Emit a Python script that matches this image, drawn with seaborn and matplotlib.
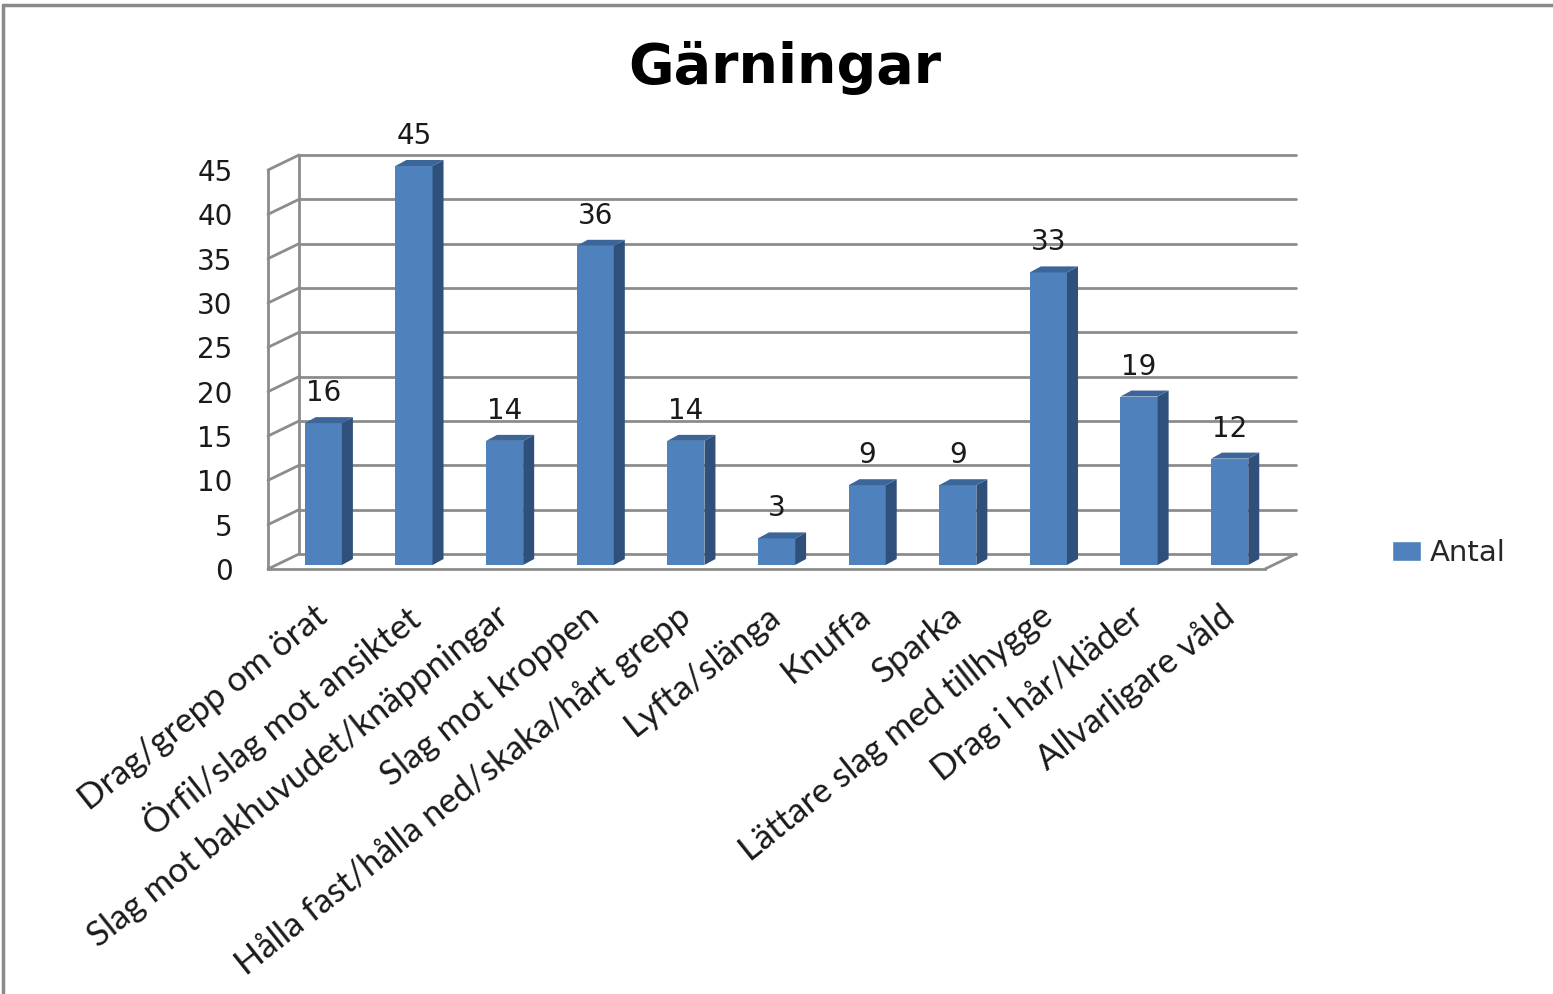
import numpy as np
import pandas as pd
import matplotlib
matplotlib.use("Agg")
import matplotlib.pyplot as plt
import seaborn as sns
from matplotlib.patches import Polygon, Patch
from matplotlib.lines import Line2D

# ---- data ----
kategorier = [
    "Drag/grepp om örat",
    "Örfil/slag mot ansiktet",
    "Slag mot bakhuvudet/knäppningar",
    "Slag mot kroppen",
    "Hålla fast/hålla ned/skaka/hårt grepp",
    "Lyfta/slänga",
    "Knuffa",
    "Sparka",
    "Lättare slag med tillhygge",
    "Drag i hår/kläder",
    "Allvarligare våld",
]
antal = [16, 45, 14, 36, 14, 3, 9, 9, 33, 19, 12]
y_ticks = list(range(0, 46, 5))

df = pd.DataFrame({"kategori": kategorier, "antal": antal})

sns.set_style("white")
plt.rcParams["font.family"] = ["DejaVu Sans"]

FRONT = "#4F81BD"
SIDE = "#30507C"
TOP = "#3C6699"
GRID = "#8C8C8C"

W, H = 1553, 994
fig = plt.figure(figsize=(W / 100, H / 100), dpi=100)
fig.patch.set_facecolor("white")

# axes = front plane of the 3D box
ax = fig.add_axes([268 / W, 1 - 569 / H, (1265 - 268) / W, (569 - 170) / H])

sns.barplot(data=df, x="kategori", y="antal", order=kategorier, color=FRONT,
            saturation=1, width=0.41, ax=ax, zorder=3)

ax.set_xlim(-0.5, 10.5)
ax.set_ylim(0, 45)

px_x = (1265 - 268) / 11
px_y = (569 - 170) / 45
def dx(p):
    return p / px_x
def dy(p):
    return p / px_y

BX, BY = dx(31), dy(15)      # back wall offset
FX, FY = dx(10), dy(4)       # bar front face offset
DX, DY = dx(11), dy(6)       # bar depth

# back wall gridlines + side wall diagonals
for v in y_ticks:
    ax.plot([-0.5 + BX, 10.5 + BX], [v + BY, v + BY], color=GRID, lw=2, clip_on=False, zorder=1)
    ax.plot([-0.5, -0.5 + BX], [v, v + BY], color=GRID, lw=2, clip_on=False, zorder=1)
ax.plot([-0.5 + BX, -0.5 + BX], [BY, 45 + BY], color=GRID, lw=2, clip_on=False, zorder=1)
ax.plot([10.5, 10.5 + BX], [0, BY], color=GRID, lw=2, clip_on=False, zorder=1)

# 3D bars: shift front faces, add side + top faces
for p, v in zip(list(ax.patches), antal):
    p.set_x(p.get_x() + FX)
    p.set_y(FY)
    p.set_edgecolor("none")
    p.set_clip_on(False)
    x0 = p.get_x()
    x1 = x0 + p.get_width()
    y0, y1 = FY, FY + v
    ax.add_patch(Polygon([(x1, y0), (x1 + DX, y0 + DY), (x1 + DX, y1 + DY), (x1, y1)],
                         closed=True, facecolor=SIDE, edgecolor="none", zorder=3, clip_on=False))
    ax.add_patch(Polygon([(x0, y1), (x1, y1), (x1 + DX, y1 + DY), (x0 + DX, y1 + DY)],
                         closed=True, facecolor=TOP, edgecolor="none", zorder=3, clip_on=False))
    ax.text((x0 + x1) / 2, y1 + DY + dy(16), str(v), ha="center", va="baseline",
            fontsize=20, color="#1a1a1a", clip_on=False, zorder=4)

# spines & ticks
for s in ["top", "right"]:
    ax.spines[s].set_visible(False)
for s in ["left", "bottom"]:
    ax.spines[s].set_color(GRID)
    ax.spines[s].set_linewidth(2)
    ax.spines[s].set_zorder(2)

ax.set_yticks(y_ticks)
ax.set_yticklabels([str(t) for t in y_ticks])
ax.tick_params(axis="y", length=9.5, width=2, color=GRID, pad=16, labelsize=20,
               labelcolor="#1a1a1a")

ax.set_xticks(range(len(kategorier)))
ax.set_xticklabels(kategorier, rotation=38.5, ha="right", va="top",
                   rotation_mode="anchor", fontsize=25, family=["Lato", "DejaVu Sans"],
                   color="#1a1a1a")
ax.tick_params(axis="x", which="major", length=0, pad=22)
ax.set_xticks(np.arange(-0.5, 11, 1), minor=True)
ax.tick_params(axis="x", which="minor", length=6, width=2, color=GRID)
ax.set_xlabel("")
ax.set_ylabel("")
ax.grid(False)
ax.set_facecolor("none")

# title and legend
fig.text(785 / W, 1 - 68 / H, "Gärningar", ha="center", va="center",
         fontsize=40, fontweight="bold", color="black")
fig.legend(handles=[Patch(facecolor=FRONT, label="Antal")], loc="center left",
           bbox_to_anchor=(1366 / W, 1 - 553 / H), frameon=False, fontsize=21,
           handlelength=1.0, handleheight=0.7, handletextpad=0.3)

# outer frame (top and left edge of the chart area)
fig.add_artist(Line2D([3 / W, 3 / W], [0, 1 - 5 / H], color="#8a8a8a", lw=2.5))
fig.add_artist(Line2D([3 / W, 1], [1 - 5 / H, 1 - 5 / H], color="#8a8a8a", lw=2.5))

fig.savefig("out.png", dpi=100, facecolor="white")
